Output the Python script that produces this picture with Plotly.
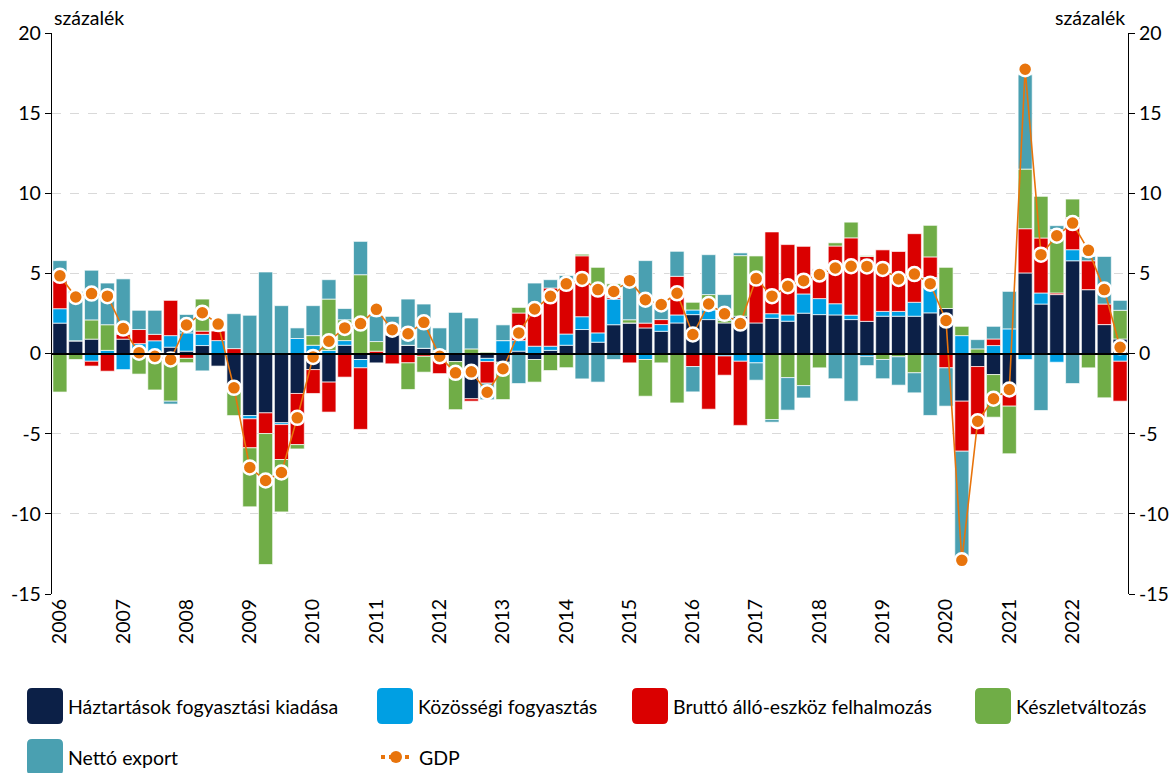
import plotly.graph_objects as go

years = list(range(2006, 2023))
quarters = [f"{y} Q{q}" for y in years for q in range(1, 5)]
year_labels = [str(y) for y in years]
year_ticks = [f"{y} Q1" for y in years]

haztartas = [1.9, 0.8, 0.9, 0.0, 0.9, 0.25, 0.05, 0.4,
             0.15, 0.5, -0.78, -2.0, -3.87, -3.7, -4.32, -2.49,
             -1.0, -1.78, 0.52, -0.37, -0.58, 1.18, 0.52, 0.33,
             0.0, -0.5, -2.82, -0.3, -0.54, 0.15, -0.37, 0.2,
             0.52, 1.5, 0.71, 1.8, 1.91, 1.6, 1.39, 1.91,
             2.43, 2.12, 1.91, 2.33, 1.91, 2.2, 2.02, 2.52,
             2.43, 2.41, 2.12, 2.01, 2.33, 2.33, 2.33, 2.54,
             2.81, -2.97, -0.81, -1.31, -2.55, 5.03, 3.09, 3.68,
             5.79, 3.99, 1.81, 0.91]

kozossegi = [0.9, 0.0, -0.48, 0.2, -1.0, 0.37, 0.75, 0.72,
             1.14, 0.7, 0.81, 0.0, -0.2, 0.0, -0.11, 0.94,
             0.52, 0.2, 0.29, -0.52, 0.0, 0.0, 0.0, 0.0,
             -0.35, 0.0, 0.0, -0.2, 0.81, 0.66, 0.46, 0.26,
             0.7, 0.8, 0.58, 1.6, 0.0, -0.37, 0.42, 0.5,
             0.29, 0.6, -0.15, -0.48, -0.58, 0.29, 0.39, 1.2,
             1.0, 0.7, 0.28, -0.17, 0.3, 0.3, 0.87, 2.2,
             0.0, 1.12, 0.0, 0.5, 1.54, -0.37, 0.69, -0.54,
             0.69, 0.0, 0.0, -0.48]

brutto = [1.75, 0.0, -0.3, -1.1, 0.33, 0.88, 0.4, 2.2,
          -0.3, 0.2, 0.62, 0.31, -1.81, -1.29, -2.18, -3.19,
          -1.49, -1.87, -1.47, -3.84, 0.15, -0.64, -0.58, -0.17,
          -0.9, 0.0, -0.15, -1.35, 0.0, 1.72, 2.07, 3.63,
          3.0, 3.8, 2.56, 0.1, -0.58, 0.3, 0.31, 2.41,
          -0.81, -3.47, -1.2, -4.0, 2.91, 5.1, 4.39, 2.97,
          1.85, 3.6, 4.82, 4.05, 3.84, 3.74, 4.28, 1.29,
          -0.89, -3.12, -4.24, 0.41, -0.73, 2.76, 3.43, 0.1,
          2.01, 1.8, 1.28, -2.49]

keszlet = [-2.4, -0.37, 1.2, 1.6, 0.0, -1.28, -2.27, -2.97,
           -0.27, 2.0, 0.0, -1.87, -3.68, -8.17, -3.27, -0.27,
           0.6, 3.2, 1.3, 4.92, 0.6, 0.0, -1.66, -0.99,
           0.2, -3.0, 0.29, 0.08, -2.33, 0.35, -1.41, -1.06,
           -0.88, 0.1, 1.53, 0.85, 0.2, -2.29, -0.58, -3.08,
           0.48, 0.96, 0.17, 3.78, 1.27, -4.12, -1.5, -2.0,
           -0.89, 0.2, 0.98, 0.05, -0.37, -0.2, -1.2, 1.97,
           2.57, 0.58, 0.29, -2.66, -2.97, 3.72, 2.6, 3.95,
           1.15, -0.89, -2.76, 1.79]

netto_export = [1.25, 3.08, 3.1, 2.6, 3.43, 1.2, 1.5, -0.18,
                1.15, -1.08, 0.0, 2.18, 2.39, 5.09, 2.99, 0.66,
                1.87, 1.21, 0.7, 2.08, 1.6, 1.14, 2.88, 2.76,
                1.4, 2.57, 1.93, -1.03, 0.98, -1.87, 1.87, 0.52,
                0.65, -1.58, -1.78, -0.37, 2.12, 3.9, 0.68, 1.56,
                -1.58, 2.49, 1.6, 0.17, -1.08, -0.16, -2.03, -0.77,
                0.0, -1.57, -2.97, -0.58, -1.2, -1.77, -1.25, -3.86,
                -2.39, -7.06, 0.58, 0.79, 2.34, 5.88, -3.55, 0.25,
                -1.87, 0.27, 2.97, 0.62]

gdp = [4.85, 3.53, 3.74, 3.58, 1.56, 0.05, -0.17, -0.37,
       1.78, 2.55, 1.84, -2.14, -7.11, -7.92, -7.42, -4.01,
       -0.21, 0.77, 1.6, 1.87, 2.76, 1.49, 1.24, 1.95,
       -0.17, -1.2, -1.14, -2.41, -0.95, 1.29, 2.78, 3.57,
       4.35, 4.66, 3.99, 3.87, 4.55, 3.36, 3.06, 3.76,
       1.19, 3.09, 2.48, 1.87, 4.68, 3.58, 4.2, 4.55,
       4.93, 5.34, 5.45, 5.44, 5.28, 4.65, 4.96, 4.36,
       2.06, -12.9, -4.22, -2.82, -2.24, 17.74, 6.17, 7.35,
       8.14, 6.44, 3.99, 0.39]

names = ["Háztartások fogyasztási kiadása", "Közösségi fogyasztás",
         "Bruttó álló-eszköz felhalmozás", "Készletváltozás", "Nettó export"]
gdp_name = "GDP"
unit_label = "százalék"

colors = ["#0C2047", "#009FE3", "#DA0000", "#70AD47", "#4AA0B1"]
orange = "#E8740C"
FONT = "Lato"
FS = 19.5

W, H = 1174, 773
ML, MR, MT, MB = 52, 46, 33, 179
PW, PH = W - ML - MR, H - MT - MB


def px_x(px):
    return (px - ML) / PW


def px_y(py):
    return (MT + PH - py) / PH


fig = go.Figure()
for name, vals, col in zip(names, [haztartas, kozossegi, brutto, keszlet, netto_export], colors):
    fig.add_trace(go.Bar(
        x=quarters, y=vals, name=name,
        marker=dict(color=col, line=dict(color="rgba(255,255,255,0.75)", width=0.9)),
        showlegend=False, yaxis="y"))

fig.add_trace(go.Scatter(
    x=quarters, y=gdp, name=gdp_name, mode="lines+markers", yaxis="y2",
    line=dict(color=orange, width=1.6),
    marker=dict(color=orange, size=14, line=dict(color="white", width=2.5)),
    showlegend=False))

tickv = [-15, -10, -5, 0, 5, 10, 15, 20]
axis_common = dict(range=[-15, 20], tickvals=tickv, ticktext=[str(v) for v in tickv],
                   showline=True, linecolor="black", linewidth=1.3, ticks="outside",
                   ticklen=6, tickcolor="black", tickwidth=1.3, automargin=False,
                   tickfont=dict(size=FS, color="black", family=FONT))

fig.update_layout(
    width=W, height=H, margin=dict(l=ML, r=MR, t=MT, b=MB),
    barmode="relative", bargap=0.11,
    plot_bgcolor="white", paper_bgcolor="white",
    font=dict(family=FONT, size=FS, color="black"),
    xaxis=dict(type="category", categoryorder="array", categoryarray=quarters,
               range=[-0.5, len(quarters) - 0.5], automargin=False,
               tickvals=year_ticks, ticktext=year_labels, tickangle=-90,
               showgrid=False, showline=False, zeroline=False, ticks="",
               tickfont=dict(size=FS, color="black", family=FONT)),
    yaxis=dict(**axis_common, showgrid=True, gridcolor="#D9D9D9", griddash="dash", gridwidth=1,
               zeroline=True, zerolinecolor="black", zerolinewidth=2),
    yaxis2=dict(**axis_common, overlaying="y", side="right", showgrid=False, zeroline=False),
)

zero_ok = True
try:
    fig.layout.yaxis.zerolinelayer = "above traces"
except Exception:
    zero_ok = False
if not zero_ok:
    fig.add_shape(type="line", xref="paper", yref="y", x0=0, x1=1, y0=0, y1=0,
                  line=dict(color="black", width=2), layer="above")

# unit labels
fig.add_annotation(text=unit_label, xref="paper", yref="paper", x=px_x(52), y=px_y(18),
                   xanchor="left", yanchor="middle", showarrow=False, font=dict(size=FS, family=FONT))
fig.add_annotation(text=unit_label, xref="paper", yref="paper", x=px_x(1127), y=px_y(18),
                   xanchor="right", yanchor="middle", showarrow=False, font=dict(size=FS, family=FONT))

# manual legend
legend_items = [(names[0], colors[0], 27, 706), (names[1], colors[1], 377, 706),
                (names[2], colors[2], 632, 706), (names[3], colors[3], 975, 706),
                (names[4], colors[4], 27, 757)]
S = 36
r = 5
for label, col, x0, yc in legend_items:
    x1 = x0 + S
    y0 = yc - S / 2
    y1 = yc + S / 2
    path = (f"M {px_x(x0 + r)},{px_y(y0)} L {px_x(x1 - r)},{px_y(y0)} "
            f"Q {px_x(x1)},{px_y(y0)} {px_x(x1)},{px_y(y0 + r)} "
            f"L {px_x(x1)},{px_y(y1 - r)} Q {px_x(x1)},{px_y(y1)} {px_x(x1 - r)},{px_y(y1)} "
            f"L {px_x(x0 + r)},{px_y(y1)} Q {px_x(x0)},{px_y(y1)} {px_x(x0)},{px_y(y1 - r)} "
            f"L {px_x(x0)},{px_y(y0 + r)} Q {px_x(x0)},{px_y(y0)} {px_x(x0 + r)},{px_y(y0)} Z")
    fig.add_shape(type="path", path=path, xref="paper", yref="paper",
                  fillcolor=col, line=dict(width=0), layer="above")
    fig.add_annotation(text=label, xref="paper", yref="paper", x=px_x(x1 + 3), y=px_y(yc),
                       xanchor="left", yanchor="middle", showarrow=False,
                       font=dict(size=FS, family=FONT))

# GDP legend symbol
gy = 757
fig.add_shape(type="line", xref="paper", yref="paper", x0=px_x(381), x1=px_x(412), y0=px_y(gy), y1=px_y(gy),
              line=dict(color=orange, width=4, dash="4px,4px"), layer="above")
fig.add_shape(type="circle", xref="paper", yref="paper", x0=px_x(390), x1=px_x(402),
              y0=px_y(gy + 6), y1=px_y(gy - 6), fillcolor=orange, line=dict(width=0), layer="above")
fig.add_annotation(text=gdp_name, xref="paper", yref="paper", x=px_x(417), y=px_y(gy),
                   xanchor="left", yanchor="middle", showarrow=False, font=dict(size=FS, family=FONT))

fig.write_html("out.html", config={"displayModeBar": False},
               post_script="document.body.style.margin='0px';document.body.style.overflow='hidden';")
